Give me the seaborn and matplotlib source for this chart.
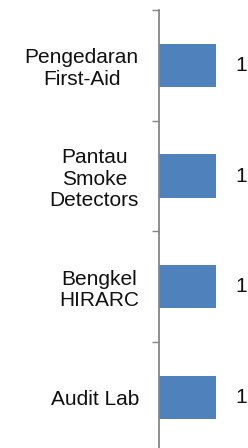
import matplotlib
matplotlib.use("Agg")
import matplotlib.pyplot as plt
import seaborn as sns
import pandas as pd
from matplotlib.ticker import FixedLocator

categories = ["Pengedaran\nFirst-Aid", "Pantau\nSmoke\nDetectors", "Bengkel\nHIRARC", "Audit Lab"]
values = [1, 1, 1, 1]

sns.set_style("white")
plt.rcParams['font.family'] = ['Liberation Sans', 'DejaVu Sans']

df = pd.DataFrame({"cat": categories, "val": values})

fig = plt.figure(figsize=(2.48, 4.48), dpi=100)
ax = fig.add_axes([159/248, -4.8/448, (248-159)/248, 442.8/448])

sns.barplot(data=df, x="val", y="cat", orient="h", color="#4F81BD",
            width=0.39, saturation=1, ax=ax, edgecolor="none")

ax.set_xlim(0, 89/57)
ax.set_ylim(3.5, -0.5)
ax.set_xlabel("")
ax.set_ylabel("")
ax.set_xticks([])

for s in ["top", "right", "bottom"]:
    ax.spines[s].set_visible(False)
ax.spines["left"].set_color("#868686")
ax.spines["left"].set_linewidth(1.3)

ax.yaxis.set_minor_locator(FixedLocator([-0.5, 0.5, 1.5, 2.5, 3.5]))
ax.tick_params(axis="y", which="major", left=True, length=0, pad=14.5, labelsize=15, labelcolor="#111111")
ax.tick_params(axis="y", which="minor", left=True, length=5, width=1.0, color="#868686", direction="out")
for lab in ax.get_yticklabels():
    lab.set_multialignment("center")
    lab.set_linespacing(1.15)

for c in ax.containers:
    ax.bar_label(c, labels=[str(v) for v in values], padding=14, fontsize=15, color="#111111")

fig.savefig("out.png", dpi=100)
